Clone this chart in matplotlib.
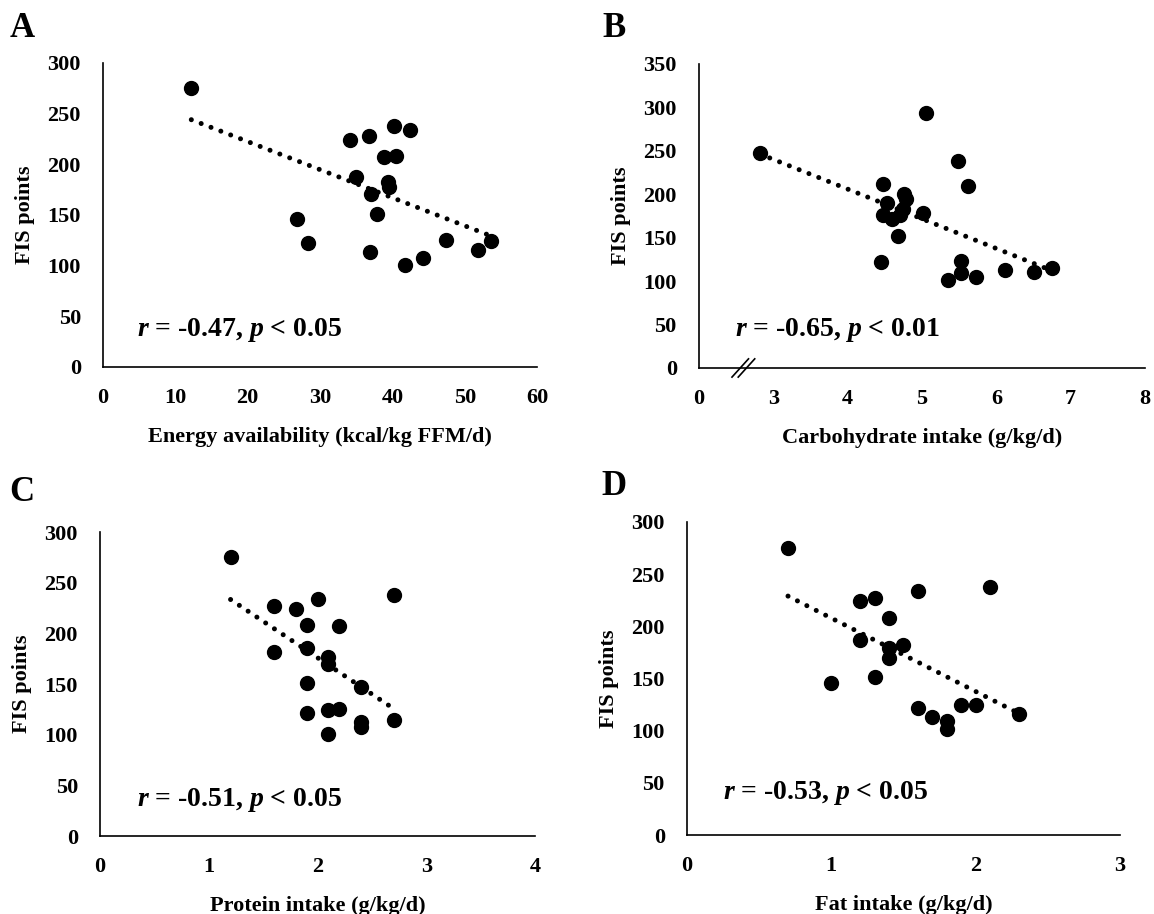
import numpy as np
import matplotlib
matplotlib.use('Agg')
import matplotlib.pyplot as plt

plt.rcParams['font.family'] = ['Liberation Serif', 'DejaVu Serif']
plt.rcParams['font.weight'] = 'bold'
plt.rcParams['mathtext.fontset'] = 'custom'
plt.rcParams['mathtext.it'] = 'Liberation Serif:italic:bold'
plt.rcParams['mathtext.rm'] = 'Liberation Serif:bold'

# Panel A: energy availability
ea_x = [12.2, 40.2, 42.5, 34.2, 36.7, 38.8, 40.5, 35.0, 39.4, 39.5,
        37.1, 37.9, 26.8, 28.4, 36.9, 41.8, 44.2, 47.4, 51.8, 53.6]
ea_y = [275, 238, 234, 224, 228, 207, 208, 187, 183, 178,
        171, 151, 146, 122, 113, 101, 108, 125, 115, 124]

# Panel B: carbohydrate intake
cho_x = [5.05, 2.82, 5.49, 5.62, 4.48, 4.76, 4.78, 4.53, 4.75, 5.02, 4.48,
         4.71, 4.59, 4.68, 5.53, 4.45, 6.11, 6.75, 6.51, 5.53, 5.73, 5.35]
cho_y = [294, 247, 238, 209, 212, 200, 195, 190, 183, 178, 176,
         176, 171, 152, 123, 122, 113, 115, 111, 109, 105, 101]

# Panel C: protein intake
pro_x = [1.2, 2.7, 2.0, 1.6, 1.8, 1.9, 2.2, 1.6, 1.9, 2.1,
         2.1, 1.9, 2.4, 1.9, 2.1, 2.2, 2.4, 2.4, 2.7, 2.1]
pro_y = [275, 238, 234, 227, 224, 208, 207, 182, 186, 177,
         170, 151, 147, 121, 124, 125, 113, 108, 115, 101]

# Panel D: fat intake
fat_x = [0.7, 2.1, 1.6, 1.3, 1.2, 1.4, 1.2, 1.5, 1.4, 1.4,
         1.0, 1.3, 1.6, 1.7, 1.8, 1.8, 1.9, 2.0, 2.3]
fat_y = [275, 238, 234, 227, 224, 208, 187, 182, 179, 170,
         146, 151, 122, 113, 109, 102, 125, 125, 116]

fig = plt.figure(figsize=(11.54, 9.14), dpi=100)

panels = [
    # letter, x, y, xlabel, r, p, xlim, xticks, xticklabels, ymax, rect, text pos, letter pos
    ('A', ea_x, ea_y, 'Energy availability (kcal/kg FFM/d)', '-0.47', '0.05',
     (0, 60), [0, 10, 20, 30, 40, 50, 60], None, 300,
     [0.0893, 0.5985, 0.3761, 0.3326], (0.078, 0.122), (0.019, 0.969)),
    ('B', cho_x, cho_y, 'Carbohydrate intake (g/kg/d)', '-0.65', '0.01',
     (2, 8), [2, 3, 4, 5, 6, 7, 8], ['0', '3', '4', '5', '6', '7', '8'], 350,
     [0.6057, 0.5974, 0.3865, 0.3326], (0.081, 0.125), (0.532, 0.969)),
    ('C', pro_x, pro_y, 'Protein intake (g/kg/d)', '-0.51', '0.05',
     (0, 4), [0, 1, 2, 3, 4], None, 300,
     [0.0867, 0.0853, 0.3770, 0.3326], (0.084, 0.118), (0.019, 0.461)),
    ('D', fat_x, fat_y, 'Fat intake (g/kg/d)', '-0.53', '0.05',
     (0, 3), [0, 1, 2, 3], None, 300,
     [0.5953, 0.0864, 0.3752, 0.3425], (0.083, 0.134), (0.532, 0.468)),
]

for (letter, x, y, xlab, r, p, xlim, xt, xtl, ymax, rect, tpos, lpos) in panels:
    ax = fig.add_axes(rect)
    x = np.array(x)
    y = np.array(y)
    ax.plot(x, y, 'o', color='black', markersize=10, zorder=3)
    m, b = np.polyfit(x, y, 1)
    xx = np.array([x.min(), x.max()])
    ax.plot(xx, m * xx + b, color='black', linewidth=3.6,
            linestyle=(0, (0.01, 2.1)), dash_capstyle='round', zorder=2)

    ax.set_xlim(*xlim)
    ax.set_ylim(0, ymax)
    ax.set_xticks(xt)
    if xtl is not None:
        ax.set_xticklabels(xtl)
    ax.set_yticks(np.arange(0, ymax + 1, 50))
    ax.tick_params(length=0, labelsize=16, pad=15)
    for lab in ax.get_xticklabels() + ax.get_yticklabels():
        lab.set_fontweight('bold')
    ax.tick_params(axis='y', pad=16)
    for s in ['top', 'right']:
        ax.spines[s].set_visible(False)
    for s in ['left', 'bottom']:
        ax.spines[s].set_linewidth(1.2)
    ax.set_xlabel(xlab, fontsize=16, fontweight='bold', labelpad=14)
    ax.set_ylabel('FIS points', fontsize=16, fontweight='bold', labelpad=9)
    ax.text(tpos[0], tpos[1], r'$r$ = ' + r + ', $p$ < ' + p,
            transform=ax.transAxes, fontsize=20, fontweight='bold',
            va='center', ha='left')
    fig.text(lpos[0], lpos[1], letter, fontsize=25, fontweight='bold',
             va='center', ha='center')

    if letter == 'B':
        # axis break marks
        for dx in (-0.006, 0.008):
            ax.plot([0.080 + dx, 0.117 + dx], [-0.03, 0.03], color='black',
                    linewidth=1.2, transform=ax.transAxes, clip_on=False)

plt.savefig('out.png', dpi=100)
